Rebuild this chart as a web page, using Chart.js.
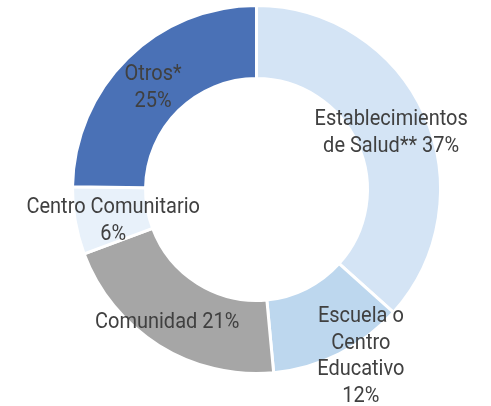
<!DOCTYPE html>
<html>
<head>
<meta charset="utf-8">
<script src="https://cdn.jsdelivr.net/npm/chart.js@4.4.1/dist/chart.umd.min.js"></script>
<style>
  html, body { margin: 0; padding: 0; background: #ffffff; }
  #wrap { width: 491px; height: 406px; position: relative; }
</style>
</head>
<body>
<div id="wrap"><canvas id="c" width="491" height="406"></canvas></div>
<script>
const categories = ["Establecimientos de Salud**", "Escuela o Centro Educativo", "Comunidad", "Centro Comunitario", "Otros*"];
const values = [37, 12, 21, 6, 25];
const labelLines = [
  ["Establecimientos", "de Salud** {v}%"],
  ["Escuela o", "Centro", "Educativo", "{v}%"],
  ["Comunidad {v}%"],
  ["Centro Comunitario", "{v}%"],
  ["Otros*", "{v}%"]
];
const colors = ["#D4E4F5", "#BDD7EE", "#A6A6A6", "#E8F1FA", "#4A71B6"];

const labelPlugin = {
  id: 'sliceLabels',
  afterDatasetsDraw(chart, args, opts) {
    const ctx = chart.ctx;
    const meta = chart.getDatasetMeta(0);
    const size = opts.size, lh = opts.lineHeight;
    meta.data.forEach((arc, i) => {
      const p = arc.getProps(['x', 'y', 'startAngle', 'endAngle', 'innerRadius', 'outerRadius'], true);
      const mid = (p.startAngle + p.endAngle) / 2;
      const r = (p.innerRadius + p.outerRadius) / 2;
      const off = opts.offsets[i] || [0, 0];
      const cx = p.x + Math.cos(mid) * r + off[0];
      const cy = p.y + Math.sin(mid) * r + off[1];
      const lines = labelLines[i].map(s => s.replace('{v}', values[i]));
      const n = lines.length;
      lines.forEach((t, k) => {
        const yc = cy + (k - (n - 1) / 2) * lh;
        ctx.save();
        ctx.font = size + 'px Roboto';
        ctx.fillStyle = opts.color;
        ctx.textAlign = 'center';
        ctx.textBaseline = 'alphabetic';
        ctx.translate(cx, yc);
        ctx.scale(1, opts.stretch);
        ctx.fillText(t, 0, size * 0.355);
        ctx.restore();
      });
    });
  }
};

new Chart(document.getElementById('c'), {
  type: 'doughnut',
  data: {
    labels: categories,
    datasets: [{
      data: values,
      backgroundColor: colors,
      borderColor: '#ffffff',
      borderWidth: 3,
      hoverOffset: 0
    }]
  },
  options: {
    responsive: false,
    animation: false,
    cutout: '60.3%',
    layout: { padding: { left: 71, right: 49, top: 4, bottom: 31 } },
    plugins: {
      legend: { display: false },
      tooltip: { enabled: false },
      sliceLabels: {
        size: 20,
        lineHeight: 26.5,
        stretch: 1.12,
        color: '#404040',
        offsets: [[0, 1], [38, 33], [-11, 6], [2, 4], [0, 1]]
      }
    }
  },
  plugins: [labelPlugin]
});
</script>
</body>
</html>
